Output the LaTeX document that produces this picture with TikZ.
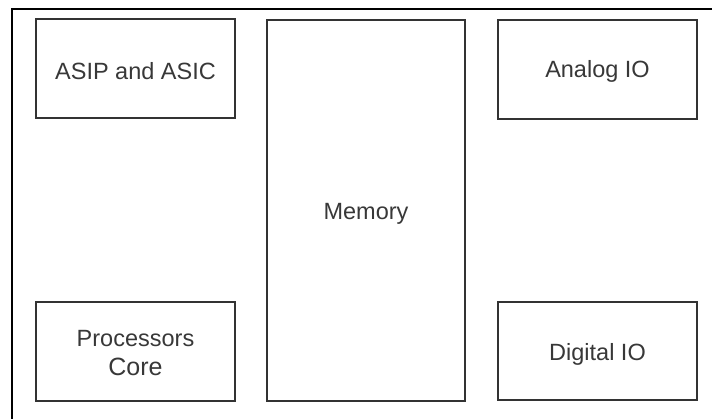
\documentclass[tikz,border=0pt]{standalone}
\usepackage{fontspec}
\setmainfont{Liberation Sans}
\begin{document}
\begin{tikzpicture}[x=1pt,y=-1pt,
  blk/.style={draw=black!80, line width=1.8pt, inner sep=0pt},
  txt/.style={text=black!78, inner sep=0pt,
    font=\fontsize{23.5}{29}\selectfont, align=center}]
\useasboundingbox (0,0) rectangle (712,419);
\fill[white] (0,0) rectangle (712,419);
\coordinate (tl) at (12,9);
\coordinate (tr) at (712,9);
\coordinate (bl) at (12,419);
\draw[black, line width=1.1pt] (tr) -- (tl) -- (bl);
\node[blk, minimum width=199pt, minimum height=99pt] (asip) at (135.5,68.5) {};
\node[blk, minimum width=199pt, minimum height=99pt] (analog) at (597.5,69.5) {};
\node[blk, minimum width=199pt, minimum height=99pt] (proc) at (135.5,351.5) {};
\node[blk, minimum width=199pt, minimum height=98pt] (digital) at (597.5,351) {};
\node[blk, minimum width=198pt, minimum height=381pt] (mem) at (366,210.5) {};
\node[txt] (tasip) at ([yshift=-2.5pt]asip.center) {ASIP and ASIC};
\node[txt] (tanalog) at ([yshift=-2pt]analog.center) {Analog IO};
\node[txt] (tproc) at ([yshift=-1.5pt]proc.center) {Processors\\{\fontsize{25}{29}\selectfont Core}};
\node[txt] (tdigital) at ([yshift=-3pt]digital.center) {Digital IO};
\node[txt] (tmem) at ([yshift=-3pt]mem.center) {Memory};
\end{tikzpicture}
\end{document}
